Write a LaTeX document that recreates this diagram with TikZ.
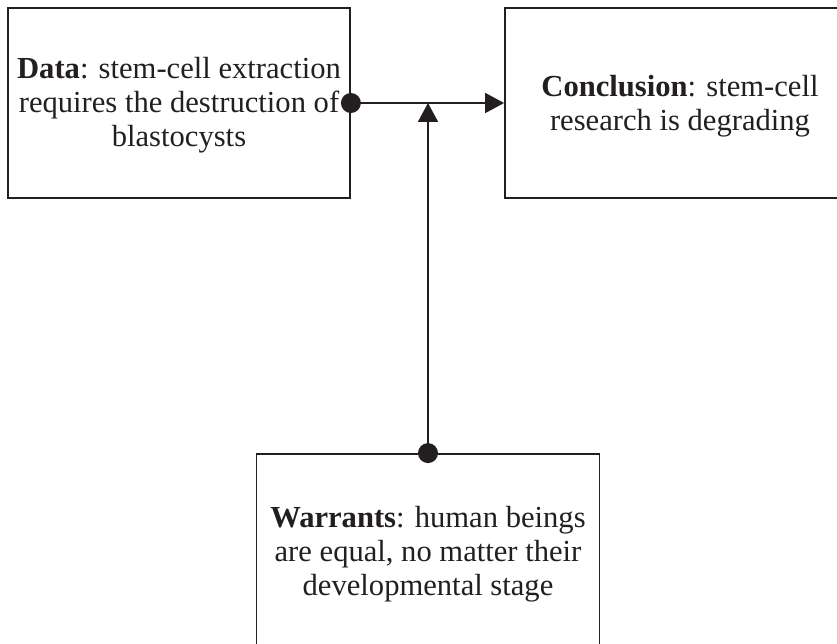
\documentclass[tikz,border=0pt]{standalone}
\usepackage{fontspec}
\setmainfont{Liberation Serif}
\usetikzlibrary{arrows.meta}
\definecolor{ink}{RGB}{35,31,32}
\tikzset{
  x=1pt, y=-1pt,
  claim/.style={draw=ink, line width=1.8pt, rectangle, align=center,
    text=ink, inner sep=0pt,
    font=\fontsize{30.6}{34}\selectfont},
  link/.style={draw=ink, line width=1.8pt,
    -{Triangle[length=19pt, width=20pt]}},
  knot/.style={fill=ink}
}
\begin{document}
\begin{tikzpicture}
\useasboundingbox (0,0) rectangle (837,644);

% the three parts of the argument
\node[claim, minimum width=342pt, minimum height=190pt] (data) at (179,103)
  {\rule{0pt}{26.6pt}\textbf{Data}: stem-cell extraction\\requires the destruction of\\blastocysts};
\node[claim, minimum width=350pt, minimum height=190pt] (concl) at (680,103)
  {\rule{0pt}{27.6pt}\textbf{Conclusion}: stem-cell\\research is degrading};
\node[claim, minimum width=343pt, minimum height=200pt] (warr) at (428,554)
  {\textbf{Warrants}: human beings\\are equal, no matter their\\developmental stage};

% inference from data to conclusion, backed by the warrant
\coordinate (j) at (warr.north |- data.east);
\draw[link] (data.east) -- (concl.west);
\draw[link] (warr.north) -- (j);
\fill[knot] (data.east) circle (10pt);
\fill[knot] (warr.north) circle (10pt);
\end{tikzpicture}
\end{document}
